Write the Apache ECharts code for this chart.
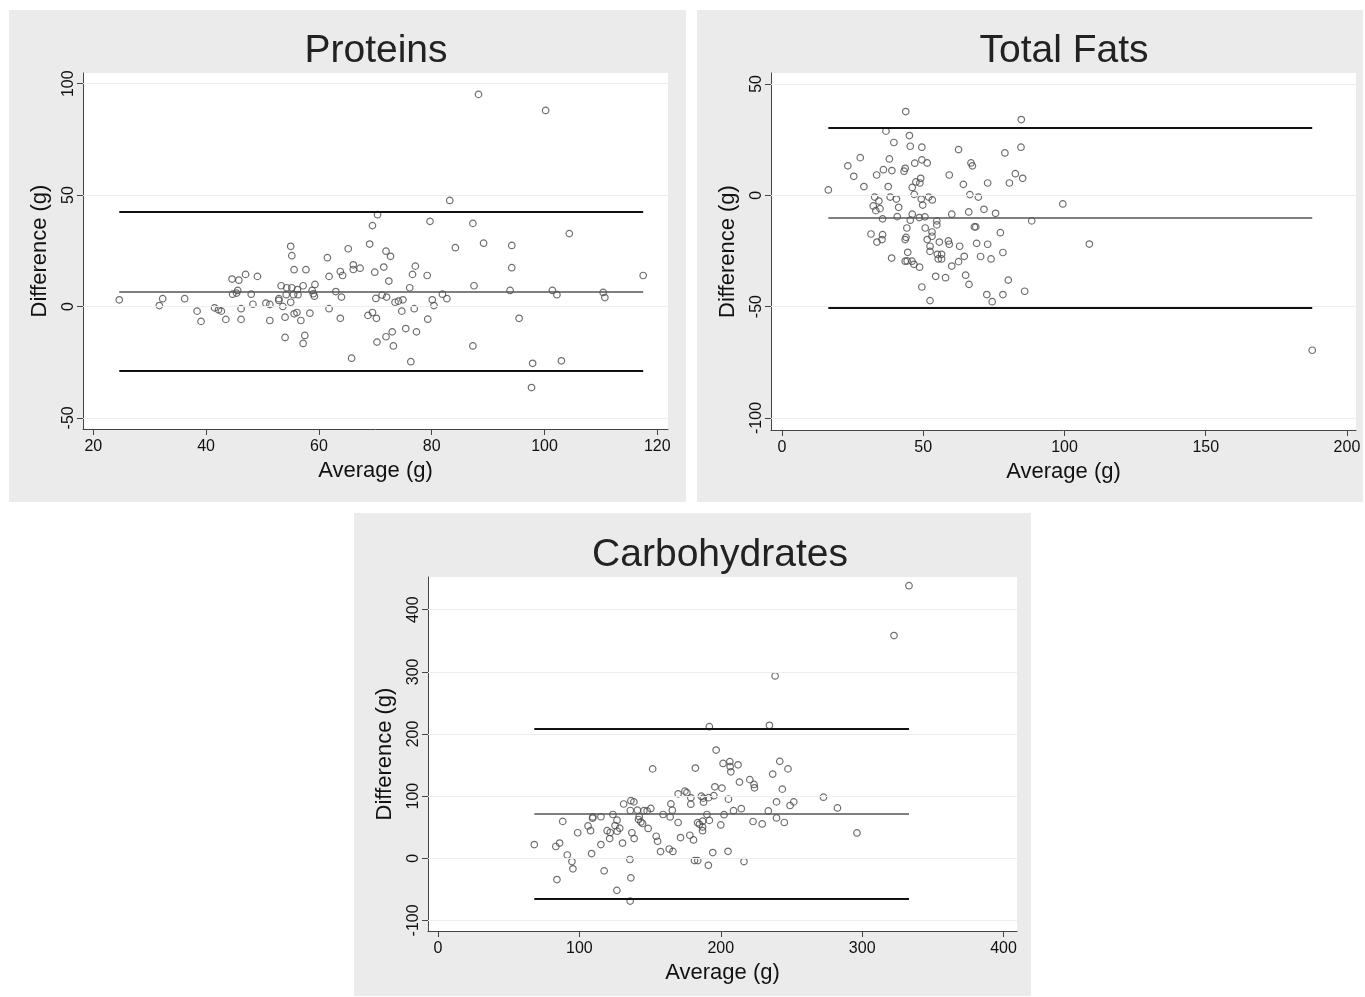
<!DOCTYPE html>
<html>
<head>
<meta charset="utf-8">
<title>Bland-Altman plots</title>
<script src="https://cdn.jsdelivr.net/npm/echarts@6/dist/echarts.min.js"></script>
<style>
  html, body { margin: 0; padding: 0; background: #fff; }
  #chart { width: 1365px; height: 997px; }
</style>
</head>
<body>
<div id="chart"></div>
<script>
// [average, difference] pairs
const proteinPoints = [
  [24.6,3.0],[31.7,0.4],[32.3,3.5],[36.2,3.5],[38.4,-2.1],[39.1,-6.7],[41.5,-0.6],[42.2,-1.5],[42.7,-2.1],[43.5,-5.8],
  [44.6,12.3],[45.8,11.8],[47.0,14.4],[49.1,13.5],[44.7,5.5],[45.4,6.0],[45.6,7.2],[46.2,-1.0],[46.2,-5.8],[48.0,5.5],
  [48.3,1.0],[50.6,1.5],[51.3,0.9],[51.3,-6.3],[52.9,3.5],[52.9,2.7],[53.3,9.3],[53.6,0],[54.0,-4.8],[54.0,-13.9],
  [54.3,8.4],[55.2,8.4],[54.2,5.3],[55.0,1.9],[55.5,5.3],[56.2,7.6],[56.3,5.3],[55.2,22.8],[55.6,16.5],[57.7,16.5],
  [55.6,-3.3],[56.1,-2.7],[56.8,-6.3],[57.2,9.3],[57.5,-13.0],[57.2,-16.6],[58.4,-3.0],[58.8,7.2],[59.0,5.7],[59.2,4.6],
  [59.3,9.9],[61.5,21.9],[61.8,13.5],[61.8,-1.0],[63.0,6.7],[63.8,15.7],[64.2,13.9],[64.0,4.2],[63.8,-5.3],[65.2,25.9],
  [66.1,18.7],[66.1,16.6],[67.3,17.2],[65.8,-23.2],[68.7,-4.0],[69.5,-2.7],[69.9,15.4],[70.1,3.6],[70.2,-5.3],[70.3,-16.0],
  [69.0,28.0],[69.5,36.3],[70.4,41.2],[55.0,27.0],[88.3,95.2],[100.2,88.0],[83.2,47.6],[79.7,38.2],[87.3,37.3],[71.9,24.8],
  [72.7,22.5],[84.2,26.4],[89.2,28.4],[94.2,27.4],[104.4,32.7],[71.5,17.7],[77.1,18.1],[94.2,17.4],[76.6,14.4],[79.2,13.9],
  [72.4,11.4],[76.1,8.4],[87.5,9.3],[93.9,7.2],[117.5,13.9],[101.4,7.2],[102.2,5.3],[110.4,6.3],[110.7,4.0],[71.2,5.1],
  [72.0,4.2],[73.5,1.9],[74.1,2.4],[74.9,3.0],[80.1,3.0],[80.4,0.4],[81.9,5.5],[82.7,3.5],[74.7,-2.1],[76.9,-1.0],
  [79.3,-5.7],[95.5,-5.3],[75.4,-9.9],[77.3,-11.4],[73.0,-11.4],[71.9,-13.6],[73.2,-17.7],[87.3,-17.7],[76.3,-24.8],[97.9,-25.5],
  [103.0,-24.4],[97.7,-36.4]
];
const fatPoints = [
  [43.8,37.6],[84.7,34.0],[36.8,28.8],[45.1,26.8],[39.6,23.7],[45.4,22.0],[49.5,21.6],[62.5,20.5],[78.9,19.0],[84.6,21.6],
  [27.7,16.9],[38.0,16.3],[23.3,13.2],[47.0,14.4],[49.5,15.9],[51.4,14.5],[66.9,14.5],[67.4,13.2],[35.9,11.5],[38.9,11.1],
  [43.6,12.1],[43.2,10.8],[33.5,9.1],[25.4,8.5],[59.2,9.1],[82.6,9.7],[85.2,7.6],[80.5,5.5],[72.8,5.5],[64.2,4.9],
  [49.1,7.6],[47.4,6.0],[48.8,5.5],[46.1,3.5],[29.0,3.9],[37.6,3.9],[16.4,2.4],[46.8,0.4],[32.8,-0.8],[34.3,-2.6],
  [38.3,-0.8],[40.5,-1.7],[49.3,-1.7],[51.9,-0.8],[53.2,-2.1],[49.8,-4.4],[66.5,0.3],[69.5,-0.8],[32.3,-4.8],[34.7,-6.0],
  [33.2,-6.9],[41.3,-5.4],[71.5,-6.3],[35.6,-10.6],[40.8,-9.6],[46.1,-8.5],[45.4,-11.2],[48.6,-10.0],[50.6,-9.7],[60.1,-8.5],
  [66.1,-7.5],[75.6,-8.1],[88.4,-11.5],[54.8,-11.5],[54.8,-13.3],[44.2,-14.7],[50.7,-14.7],[53.1,-16.5],[68.1,-14.2],[68.6,-14.2],
  [77.3,-16.8],[31.5,-17.4],[35.6,-17.7],[33.6,-21.0],[35.4,-19.9],[43.9,-18.9],[43.6,-19.9],[51.4,-19.9],[53.1,-18.4],[55.7,-21.0],
  [58.9,-20.5],[59.2,-22.0],[62.9,-22.9],[68.9,-21.6],[72.8,-22.0],[52.4,-22.9],[52.4,-25.2],[78.2,-25.7],[44.5,-25.6],[38.8,-28.2],
  [43.6,-29.6],[44.3,-29.5],[46.0,-29.6],[46.7,-31.0],[48.7,-32.3],[55.0,-26.5],[56.5,-26.5],[55.3,-28.6],[56.5,-28.6],[64.5,-27.4],
  [62.5,-29.8],[60.1,-31.8],[70.3,-27.5],[74.0,-28.6],[54.4,-36.4],[57.9,-37.0],[65.0,-35.9],[66.2,-40.0],[80.1,-38.1],[49.5,-41.2],
  [52.4,-47.3],[72.5,-44.6],[74.4,-47.8],[78.2,-44.6],[85.9,-43.1],[99.4,-3.9],[108.8,-21.9],[187.7,-69.6]
];
const carbPoints = [
  [333.1,438.7],[322.5,358.5],[238.4,293.5],[191.9,211.8],[234.4,214.0],[196.7,174.2],[201.6,152.7],[206.4,155.6],[212.2,150.5],[206.6,147.6],
  [207.1,139.2],[241.7,156.0],[247.5,143.9],[236.7,135.5],[151.8,143.9],[182.0,145.2],[213.2,122.6],[220.5,126.6],[223.5,118.9],[223.8,113.4],
  [243.5,111.3],[272.6,98.4],[282.5,81.1],[195.8,115.0],[200.8,112.9],[169.8,103.7],[174.6,108.1],[176.0,105.6],[178.8,97.3],[178.8,87.1],
  [186.2,100.0],[187.6,96.8],[187.8,90.3],[191.4,97.6],[195.1,100.8],[205.4,95.2],[164.7,87.6],[165.7,77.4],[159.2,70.5],[164.2,66.6],
  [169.8,57.6],[150.5,80.2],[147.9,76.3],[145.6,76.6],[142.3,67.3],[141.8,62.4],[143.5,58.5],[144.7,56.0],[148.6,48.1],[131.3,87.4],
  [136.4,92.7],[138.5,90.8],[136.0,76.9],[141.0,77.4],[123.7,70.5],[126.6,61.3],[115.2,66.9],[109.5,66.6],[109.3,64.5],[125.2,52.7],
  [128.5,48.4],[119.6,44.4],[121.8,41.5],[126.7,43.5],[137.1,41.1],[138.7,31.8],[130.5,24.5],[121.4,31.8],[115.2,22.1],[106.1,52.1],
  [107.9,44.4],[98.8,41.1],[88.2,59.4],[86.0,24.5],[83.3,19.0],[91.4,5.3],[94.7,-5.2],[95.4,-16.9],[108.6,7.6],[117.5,-20.2],
  [135.7,-1.9],[136.4,-31.5],[84.1,-34.2],[154.3,35.5],[155.3,27.4],[157.4,10.8],[163.5,15.0],[166.1,11.0],[171.5,33.4],[178.1,37.1],
  [180.7,29.5],[183.6,57.3],[184.9,54.8],[187.1,59.7],[190.2,70.5],[187.1,50.5],[187.1,44.4],[191.9,61.0],[200.0,53.7],[202.3,70.2],
  [209.0,76.6],[214.5,79.8],[222.8,59.2],[229.3,55.3],[233.6,76.3],[239.4,65.0],[239.4,90.8],[244.9,57.6],[249.0,85.0],[251.6,90.8],
  [194.3,9.2],[205.1,11.3],[216.4,-5.3],[181.4,-3.7],[183.7,-3.7],[191.2,-11.3],[296.3,40.8],[68.1,22.1],[126.5,-51.6],[135.9,-68.9]
];

// upper limit, mean difference, lower limit
const proteinLimits = [42.7, 6.8, -28.9];
const fatLimits = [30.5, -9.9, -50.5];
const carbLimits = [209.2, 72.4, -64.4];

const proteinXTicks = [20, 40, 60, 80, 100, 120];
const proteinYTicks = [-50, 0, 50, 100];
const fatXTicks = [0, 50, 100, 150, 200];
const fatYTicks = [-100, -50, 0, 50];
const carbXTicks = [0, 100, 200, 300, 400];
const carbYTicks = [-100, 0, 100, 200, 300, 400];

const FONT = '"Liberation Sans", Arial, Helvetica, sans-serif';

const panels = [
  { title: 'Proteins', points: proteinPoints, limits: proteinLimits, xTicks: proteinXTicks, yTicks: proteinYTicks,
    xMin: 18.17, xMax: 121.9, yMin: -55.0, yMax: 104.8, titleX: 376,
    grid: { left: 83, top: 73, width: 585, height: 356 }, box: [9, 10, 677, 492] },
  { title: 'Total Fats', points: fatPoints, limits: fatLimits, xTicks: fatXTicks, yTicks: fatYTicks,
    xMin: -3.9, xMax: 203.2, yMin: -105.4, yMax: 54.9, titleX: 1064,
    grid: { left: 771, top: 73, width: 585, height: 357 }, box: [697, 10, 666, 492] },
  { title: 'Carbohydrates', points: carbPoints, limits: carbLimits, xTicks: carbXTicks, yTicks: carbYTicks,
    xMin: -7.1, xMax: 409.5, yMin: -117, yMax: 452.7, titleX: 720,
    grid: { left: 428, top: 577, width: 589, height: 354 }, box: [354, 513, 677, 483] }
];

const option = {
  backgroundColor: '#fff',
  animation: false,
  graphic: panels.map(p => ({
    type: 'rect', z: -10, silent: true,
    shape: { x: p.box[0], y: p.box[1], width: p.box[2], height: p.box[3] },
    style: { fill: '#ebebeb' }
  })),
  title: panels.map(p => ({
    text: p.title,
    left: p.titleX,
    top: p.grid.top - 41,
    padding: 0,
    textAlign: 'center',
    textStyle: { fontFamily: FONT, fontSize: 39, fontWeight: 'normal', color: '#222' }
  })),
  grid: panels.map(p => ({
    left: p.grid.left, top: p.grid.top, width: p.grid.width, height: p.grid.height,
    show: true, backgroundColor: '#fff', borderWidth: 0, containLabel: false
  })),
  xAxis: panels.map((p, i) => ({
    type: 'value', gridIndex: i, min: p.xMin, max: p.xMax,
    name: 'Average (g)', nameLocation: 'middle', nameGap: 31,
    nameTextStyle: { fontFamily: FONT, fontSize: 22, color: '#111' },
    axisLine: { show: true, onZero: false, lineStyle: { color: '#444', width: 1 } },
    axisTick: { show: true, length: 6, customValues: p.xTicks, lineStyle: { color: '#444' } },
    axisLabel: { customValues: p.xTicks, margin: 10, fontFamily: FONT, fontSize: 16, color: '#111' },
    splitLine: { show: false }
  })),
  yAxis: panels.map((p, i) => ({
    type: 'value', gridIndex: i, min: p.yMin, max: p.yMax,
    name: 'Difference (g)', nameLocation: 'middle', nameGap: 32,
    nameTextStyle: { fontFamily: FONT, fontSize: 22, color: '#111' },
    axisLine: { show: true, onZero: false, lineStyle: { color: '#444', width: 1 } },
    axisTick: { show: true, length: 6, customValues: p.yTicks, lineStyle: { color: '#444' } },
    axisLabel: { customValues: p.yTicks, rotate: 90, margin: 6, fontFamily: FONT, fontSize: 16, color: '#111' },
    splitLine: { show: false }
  })),
  series: []
};

panels.forEach((p, i) => {
  const xs = p.points.map(d => d[0]);
  const lo = Math.min(...xs);
  const hi = Math.max(...xs);
  // faint grid lines at the y ticks
  option.series.push({
    type: 'line', xAxisIndex: i, yAxisIndex: i, data: [], z: 1, silent: true,
    markLine: {
      silent: true, symbol: ['none', 'none'], label: { show: false },
      lineStyle: { color: '#eeeeee', width: 1, type: 'solid' },
      data: p.yTicks.map(v => ({ yAxis: v }))
    }
  });
  // limits of agreement and mean difference
  option.series.push({
    type: 'line', xAxisIndex: i, yAxisIndex: i, data: [], z: 2, silent: true,
    markLine: {
      silent: true, symbol: ['none', 'none'], label: { show: false },
      data: p.limits.map((v, k) => [
        { coord: [lo, v], lineStyle: k === 1 ? { color: '#555', width: 1.5, type: 'solid' } : { color: '#111', width: 2, type: 'solid' } },
        { coord: [hi, v] }
      ])
    }
  });
  option.series.push({
    type: 'scatter', xAxisIndex: i, yAxisIndex: i, z: 3,
    data: p.points,
    symbol: 'circle', symbolSize: 6.5,
    itemStyle: { color: 'rgba(255,255,255,0)', borderColor: '#4a4a4a', borderWidth: 1.2 }
  });
});

const chart = echarts.init(document.getElementById('chart'));
chart.setOption(option);
</script>
</body>
</html>
